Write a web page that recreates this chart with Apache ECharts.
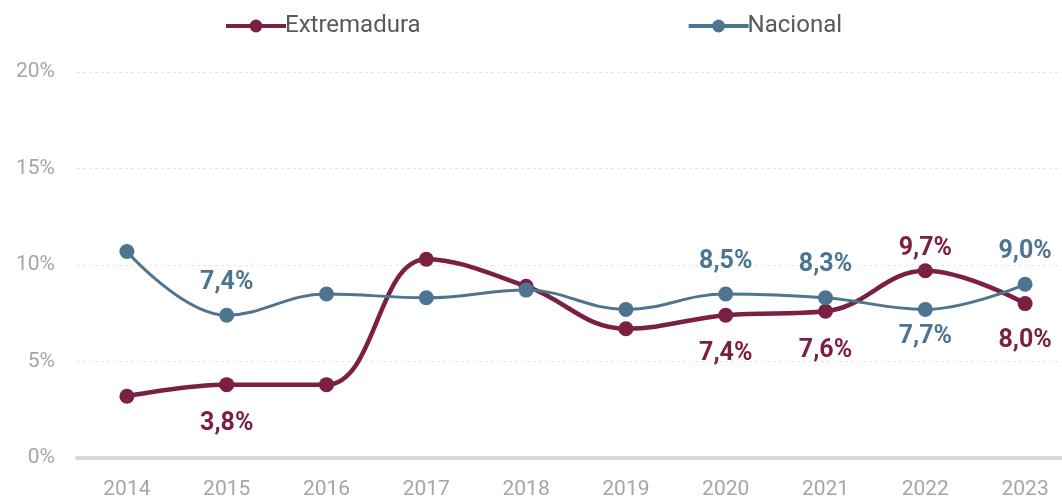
<!DOCTYPE html>
<html lang="es">

<head>
    <meta charset="UTF-8">
    <script src="https://cdn.jsdelivr.net/npm/echarts@6/dist/echarts.min.js"></script>
    <title>Extremadura vs Nacional</title>
    <style>
        body { margin: 0; background: #fff; overflow: hidden; }
        /* un poco más ancho que la ventana: el último hueco queda cortado como en el original */
        #main { width: 1075px; height: 500px; }
    </style>
</head>

<body>
    <div id="main"></div>

    <script>
        // datos
        var years = ['2014', '2015', '2016', '2017', '2018', '2019', '2020', '2021', '2022', '2023'];
        var extremadura = [3.2, 3.8, 3.8, 10.3, 8.9, 6.7, 7.4, 7.6, 9.7, 8.0];
        var nacional = [10.7, 7.4, 8.5, 8.3, 8.7, 7.7, 8.5, 8.3, 7.7, 9.0];
        var yTicks = [0, 5, 10, 15, 20];

        // qué puntos llevan etiqueta (índice -> posición, distancia)
        var extLabels = { 1: ['bottom', 19], 6: ['bottom', 19], 7: ['bottom', 19], 8: ['top', 2], 9: ['bottom', 17] };
        var nacLabels = { 1: ['top', 12], 6: ['top', 12], 7: ['top', 13], 8: ['bottom', 7], 9: ['top', 13] };

        var red = '#7B2043';
        var blue = '#4E7590';

        function buildData(values, labels, color) {
            return values.map(function (v, i) {
                var item = { value: v };
                if (labels[i]) {
                    item.label = {
                        show: true,
                        position: labels[i][0],
                        distance: labels[i][1],
                        color: color,
                        fontSize: 25,
                        fontWeight: 'bold',
                        fontFamily: 'Roboto',
                        formatter: function (p) { return p.value.toFixed(1).replace('.', ',') + '%'; }
                    };
                }
                return item;
            });
        }

        var myChart = echarts.init(document.getElementById('main'));
        var option = {
            animation: false,
            legend: {
                left: 219,
                top: 9,
                itemWidth: 60,
                itemHeight: 16,
                itemGap: 266,
                lineStyle: { width: 4 },
                textStyle: { fontSize: 24, color: '#595959', fontFamily: 'Roboto', padding: [0, 0, 0, -6] },
                data: ['Extremadura', 'Nacional']
            },
            grid: { left: 77, right: 0, top: 72, bottom: 41, containLabel: false },
            xAxis: {
                type: 'category',
                data: years,
                boundaryGap: true,
                axisLine: { lineStyle: { color: '#d9d9d9', width: 4 } },
                axisTick: { show: false },
                axisLabel: { color: '#a6a6a6', fontSize: 21, fontFamily: 'Roboto', margin: 21 }
            },
            yAxis: {
                type: 'value',
                min: yTicks[0],
                max: yTicks[yTicks.length - 1],
                interval: 5,
                axisLine: { show: false },
                axisTick: { show: false },
                axisLabel: { color: '#a6a6a6', fontSize: 21, fontFamily: 'Roboto', margin: 22, formatter: '{value}%' },
                splitLine: { lineStyle: { color: '#e6e6e6', type: [3, 3], width: 1 } }
            },
            series: [{
                    name: 'Extremadura',
                    type: 'line',
                    smooth: 0.4,
                    symbol: 'circle',
                    symbolSize: 15,
                    lineStyle: { color: red, width: 4.5 },
                    itemStyle: { color: red },
                    data: buildData(extremadura, extLabels, red)
                },
                {
                    name: 'Nacional',
                    type: 'line',
                    smooth: 0.4,
                    symbol: 'circle',
                    symbolSize: 15,
                    lineStyle: { color: blue, width: 3 },
                    itemStyle: { color: blue },
                    data: buildData(nacional, nacLabels, blue)
                }
            ]
        };
        myChart.setOption(option);
    </script>
</body>

</html>
